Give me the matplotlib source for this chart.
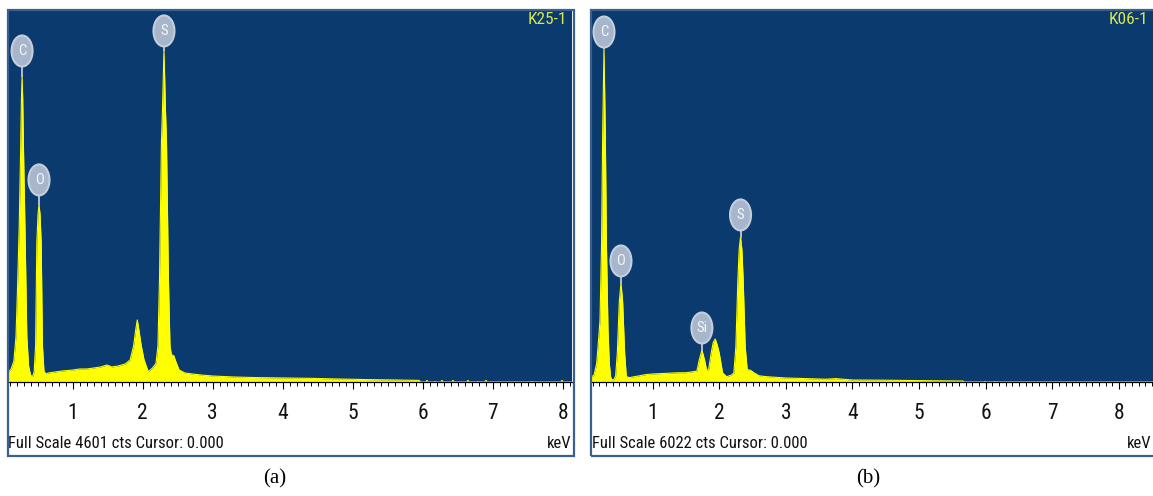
import matplotlib
matplotlib.use("Agg")
import matplotlib.pyplot as plt
from matplotlib import font_manager
from matplotlib.patches import Ellipse, Rectangle
from matplotlib.transforms import Affine2D, ScaledTranslation

# ---------------- spectrum data ----------------
# (a) sample K25-1, counts per channel vs energy (keV)
energy_a = [0.076, 0.12, 0.16, 0.19, 0.21, 0.236, 0.254, 0.268, 0.277, 0.286,
            0.30, 0.318, 0.345, 0.37, 0.40, 0.43, 0.45, 0.47, 0.488, 0.505,
            0.519, 0.533, 0.55, 0.568, 0.59, 0.62, 0.65, 0.75, 0.85, 1.0,
            1.1, 1.2, 1.3, 1.4, 1.49, 1.56, 1.65, 1.75, 1.82, 1.87,
            1.9, 1.923, 1.95, 1.98, 2.02, 2.08, 2.14, 2.19, 2.218, 2.24,
            2.268, 2.283, 2.304, 2.325, 2.34, 2.368, 2.39, 2.41, 2.447, 2.47,
            2.52, 2.6, 2.7, 2.85, 3.0, 3.3, 3.6, 4.0, 4.4, 4.8,
            5.2, 5.6, 5.95, 5.97, 8.133]
counts_a = [120, 160, 260, 560, 1100, 1920, 2750, 3500, 3785, 3500,
            2750, 1920, 560, 200, 80, 70, 130, 450, 1720, 2080,
            2190, 2080, 1720, 450, 130, 100, 111, 124, 136, 148,
            161, 161, 173, 186, 210, 186, 198, 223, 272, 445,
            643, 767, 620, 445, 272, 127, 173, 230, 446, 1265,
            2976, 3373, 4107, 3373, 2976, 1265, 446, 340, 322, 260,
            150, 112, 100, 85, 74, 62, 55, 50, 45, 37,
            30, 25, 20, 0, 0]
speck_energy_a = [6.06, 6.18, 6.27, 6.43, 6.65, 6.79, 6.91, 7.56, 7.99]
speck_counts_a = [25, 15, 30, 20, 30, 15, 25, 15, 30]
elements_a = ["C", "O", "S"]
element_energy_a = [0.277, 0.519, 2.304]
element_counts_a = [3785, 2190, 4107]
full_scale_a = 4601
sample_a = "K25-1"

# (b) sample K06-1
energy_b = [0.075, 0.12, 0.16, 0.19, 0.21, 0.233, 0.25, 0.27, 0.29, 0.307,
            0.33, 0.35, 0.37, 0.39, 0.42, 0.445, 0.47, 0.50, 0.525, 0.55,
            0.58, 0.605, 0.65, 0.7, 0.8, 0.9, 1.0, 1.1, 1.2, 1.3,
            1.4, 1.5, 1.6, 1.665, 1.70, 1.74, 1.78, 1.81, 1.84, 1.88,
            1.91, 1.94, 1.97, 2.0, 2.05, 2.11, 2.18, 2.22, 2.25, 2.28,
            2.30, 2.32, 2.34, 2.36, 2.39, 2.42, 2.47, 2.52, 2.6, 2.71,
            3.0, 3.3, 3.6, 3.75, 4.0, 4.4, 4.8, 5.2, 5.66, 5.68,
            8.513]
counts_b = [80, 110, 300, 700, 1000, 2200, 4000, 5407, 4000, 2200,
            850, 300, 80, 35, 40, 100, 470, 1300, 1603, 1300,
            470, 90, 70, 81, 100, 120, 130, 135, 140, 145,
            150, 150, 165, 178, 356, 518, 356, 195, 194, 470,
            640, 696, 600, 470, 150, 86, 110, 146, 571, 1650,
            2150, 2348, 2150, 1650, 571, 200, 190, 150, 100, 86,
            65, 55, 45, 55, 32, 30, 25, 20, 16, 0,
            0]
speck_energy_b = [5.99, 6.14]
speck_counts_b = [20, 20]
elements_b = ["C", "O", "Si", "S"]
element_energy_b = [0.27, 0.525, 1.74, 2.32]
element_counts_b = [5407, 1603, 518, 2348]
full_scale_b = 6022
sample_b = "K06-1"

tick_labels = ["1", "2", "3", "4", "5", "6", "7", "8"]

# ---------------- styling ----------------
W, H = 1153, 496
BLUE = "#0a3a6e"
YELLOW = "#ffff00"
FRAME = "#3a6090"
BUBBLE = "#a8b6cc"
SAMPLE_COLOR = "#d8e650"

_available = {f.name for f in font_manager.fontManager.ttflist}
NARROW_CANDIDATES = ["Liberation Sans Narrow", "Arial Narrow",
                     "Roboto Condensed", "Open Sans Condensed"]
NARROW = next((n for n in NARROW_CANDIDATES if n in _available), None)
if NARROW is None:
    # a regular sans at a reduced size keeps the line lengths of the narrow face
    NARROW = "Liberation Sans" if "Liberation Sans" in _available else "DejaVu Sans"
    SCALE = 0.82
else:
    SCALE = 1.0
SERIF = "Liberation Serif" if "Liberation Serif" in _available else "DejaVu Serif"


def fig_box(x0, y0, x1, y1):
    return [x0 / W, 1 - y1 / H, (x1 - x0) / W, (y1 - y0) / H]


def fx(x):
    return x / W


def fy(y):
    return 1 - y / H


fig = plt.figure(figsize=(W / 100, H / 100), dpi=100)
fig.patch.set_facecolor("white")


def draw_panel(plot_px, frame_px, xmax, energy, counts, speck_e, speck_c,
               elements, el_energy, el_counts, label_offsets, full_scale,
               sample, keV_right, caption, caption_x):
    x0, y0, x1, y1 = plot_px
    ax = fig.add_axes(fig_box(x0, y0, x1, y1))
    ax.set_facecolor(BLUE)
    ax.set_xlim(energy[0], xmax)
    ax.set_ylim(0, full_scale)

    ax.fill_between(energy, counts, 0, color=YELLOW, lw=0)
    ax.plot(energy, counts, color=YELLOW, lw=0.8)
    ax.vlines(speck_e, 0, speck_c, color="#c8d830", lw=1.6)

    for s in ("top", "left", "right"):
        ax.spines[s].set_visible(False)
    ax.spines["bottom"].set_color("black")
    ax.spines["bottom"].set_linewidth(0.9)
    ax.set_yticks([])

    major = list(range(1, 9))
    ax.set_xticks(major)
    ax.set_xticklabels(tick_labels, fontsize=14 * SCALE + 1.5, family=NARROW)
    minor = [i / 10 for i in range(1, int(xmax * 10) + 1) if i % 10 != 0]
    ax.set_xticks(minor, minor=True)
    ax.tick_params(axis="x", which="major", direction="out", length=5.2,
                   width=0.8, color="black", pad=10, labelcolor="#111111")
    ax.tick_params(axis="x", which="minor", direction="out", length=2.6,
                   width=0.7, color="black")

    # element markers above the peaks
    for el, e, c, off in zip(elements, el_energy, el_counts, label_offsets):
        base = ScaledTranslation(e, c, ax.transData)
        ax.plot([0, 0], [0, off - 14], color="#b4c0d2", lw=1.4,
                transform=base, clip_on=False, zorder=4)
        ell = Ellipse((0, off), 21, 31, facecolor=BUBBLE,
                      edgecolor="#c4cedd", lw=1.5,
                      transform=Affine2D() + base, clip_on=False, zorder=5)
        ax.add_patch(ell)
        ax.annotate(el, xy=(e, c), xytext=(0, off), textcoords="offset pixels",
                    ha="center", va="center", fontsize=10.5, family=NARROW,
                    color="#f4f6fa", zorder=6, annotation_clip=False)

    fig.text(fx(x1 - 5), fy(20), sample, ha="right", va="center",
             fontsize=12.5 * SCALE, family=NARROW, color=SAMPLE_COLOR)

    fx0, fy0, fx1, fy1 = frame_px
    fig.add_artist(Rectangle((fx(fx0), fy(fy1)), (fx1 - fx0) / W,
                             (fy1 - fy0) / H, transform=fig.transFigure,
                             fill=False, edgecolor=FRAME, lw=1.6))

    fig.text(fx(x0 + 0.5), fy(443), f"Full Scale {full_scale} cts Cursor: 0.000",
             ha="left", va="center", fontsize=12 * SCALE, family=NARROW,
             color="#111111")
    fig.text(fx(keV_right), fy(443), "keV", ha="right", va="center",
             fontsize=12 * SCALE, family=NARROW, color="#111111")
    fig.text(fx(caption_x), fy(479), caption, ha="center", va="center",
             fontsize=15, family=SERIF, color="black")
    return ax


draw_panel((8, 10, 572, 382), (8, 10, 574, 456), 8.133,
           energy_a, counts_a, speck_energy_a, speck_counts_a,
           elements_a, element_energy_a, element_counts_a, [25, 25, 19],
           full_scale_a, sample_a, 572, "(a)", 275)

draw_panel((591, 10, 1153, 382), (591, 10, 1170, 456), 8.513,
           energy_b, counts_b, speck_energy_b, speck_counts_b,
           elements_b, element_energy_b, element_counts_b, [16, 22, 22, 22],
           full_scale_b, sample_b, 1152, "(b)", 868)

fig.savefig("out.png", dpi=100, facecolor="white")
